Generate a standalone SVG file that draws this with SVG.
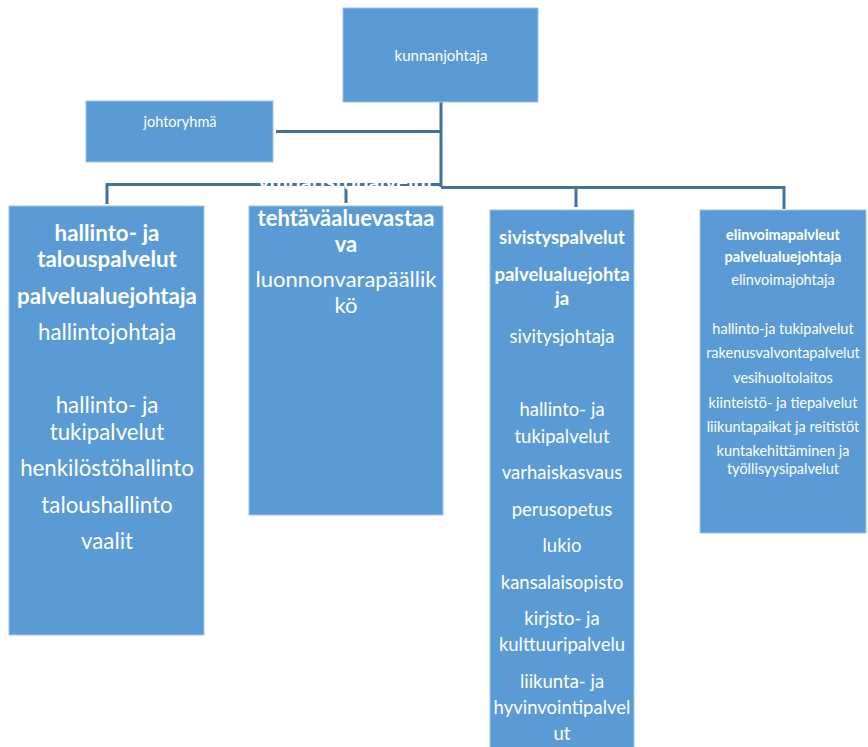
<svg xmlns="http://www.w3.org/2000/svg" width="868" height="747" viewBox="0 0 868 747">
<style>
.box{fill:#5B9BD5;stroke:#9DC3E6;stroke-width:1}
.c{fill:none;stroke:#41719C;stroke-width:3}
text{font-family:Lato,"Open Sans","Liberation Sans",sans-serif;fill:#fff;text-anchor:middle}
.b{font-weight:bold}
.A{font-size:22.3px}
.B{font-size:22px}
.C{font-size:18.5px}
.S{font-size:14.5px}
</style>
<rect width="868" height="747" fill="#fff"/>
<g id="connectors">
<path class="c" d="M441,102 V187"/>
<path class="c" d="M276,131.5 H441"/>
<path class="c" d="M107,204 V184.5 H441"/>
<path class="c" d="M346,184.5 V203"/>
<path class="c" d="M441,187.5 H784 V209"/>
<path class="c" d="M576,187.5 V207"/>
</g>
<g id="kunnanjohtaja">
<rect class="box" x="343" y="8" width="195" height="94"/>
<text x="441" y="61" font-size="15">kunnanjohtaja</text>
</g>
<g id="johtoryhma">
<rect class="box" x="86" y="101" width="187" height="61"/>
<text x="180" y="127" font-size="14.5">johtoryhmä</text>
</g>
<g id="hallinto">
<rect class="box" x="9" y="206" width="195" height="429"/>
<text class="A b" x="107" y="241">hallinto- ja</text>
<text class="A b" x="107" y="267">talouspalvelut</text>
<text class="A b" x="107" y="304">palvelualuejohtaja</text>
<text class="A" x="107" y="340">hallintojohtaja</text>
<text class="A" x="107" y="413">hallinto- ja</text>
<text class="A" x="107" y="440">tukipalvelut</text>
<text class="A" x="107" y="476">henkilöstöhallinto</text>
<text class="A" x="107" y="513">taloushallinto</text>
<text class="A" x="107" y="549">vaalit</text>
</g>
<g id="ymparisto">
<rect class="box" x="249" y="206" width="194" height="309"/>
<text class="B b" x="346" y="190">ympäristöpalvelut</text>
<text class="B b" x="346" y="226">tehtäväaluevastaa</text>
<text class="B b" x="346" y="252">va</text>
<text class="B" x="346" y="287">luonnonvarapäällik</text>
<text class="B" x="346" y="313">kö</text>
</g>
<g id="sivistys">
<rect class="box" x="490" y="210" width="144" height="540"/>
<text class="C b" x="562" y="244">sivistyspalvelut</text>
<text class="C b" x="562" y="281">palvelualuejohta</text>
<text class="C b" x="562" y="305">ja</text>
<text class="C" x="562" y="343">sivitysjohtaja</text>
<text class="C" x="562" y="416">hallinto- ja</text>
<text class="C" x="562" y="443">tukipalvelut</text>
<text class="C" x="562" y="479">varhaiskasvaus</text>
<text class="C" x="562" y="516">perusopetus</text>
<text class="C" x="562" y="552">lukio</text>
<text class="C" x="562" y="589">kansalaisopisto</text>
<text class="C" x="562" y="625">kirjsto- ja</text>
<text class="C" x="562" y="651">kulttuuripalvelu</text>
<text class="C" x="562" y="688">liikunta- ja</text>
<text class="C" x="562" y="714">hyvinvointipalvel</text>
<text class="C" x="562" y="740">ut</text>
</g>
<g id="elinvoima">
<rect class="box" x="700" y="210" width="166" height="323"/>
<text class="S b" x="783" y="240">elinvoimapalvleut</text>
<text class="S b" x="783" y="262">palvelualuejohtaja</text>
<text class="S" x="783" y="285">elinvoimajohtaja</text>
<text class="S" x="783" y="334">hallinto-ja tukipalvelut</text>
<text class="S" x="783" y="358">rakenusvalvontapalvelut</text>
<text class="S" x="783" y="383">vesihuoltolaitos</text>
<text class="S" x="783" y="408">kiinteistö- ja tiepalvelut</text>
<text class="S" x="783" y="432">liikuntapaikat ja reitistöt</text>
<text class="S" x="783" y="456">kuntakehittäminen ja</text>
<text class="S" x="783" y="474">työllisyysipalvelut</text>
</g>
</svg>
